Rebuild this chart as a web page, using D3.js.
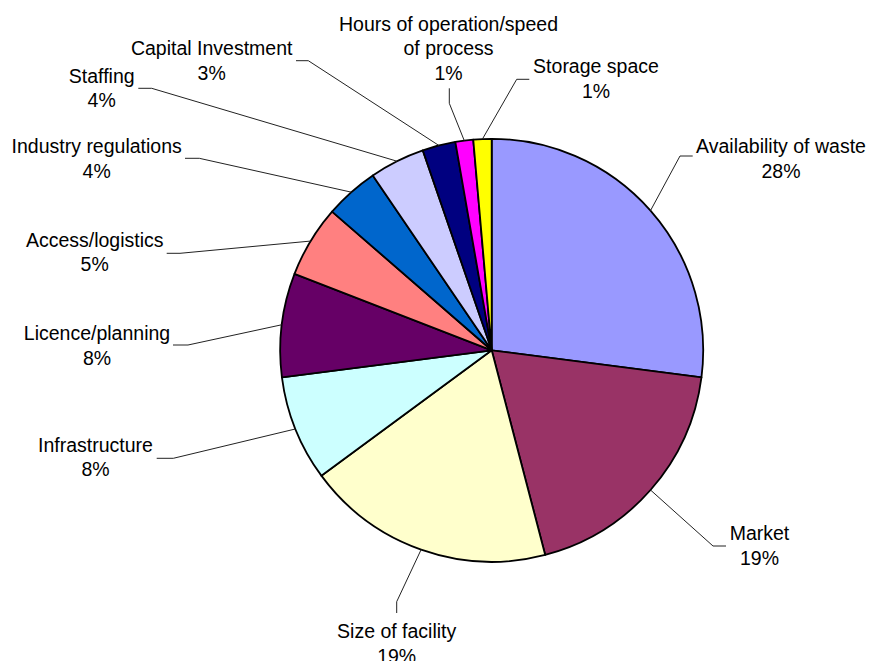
<!DOCTYPE html>
<html>
<head>
<meta charset="utf-8">
<script src="https://cdn.jsdelivr.net/npm/d3@7"></script>
<style>
body { margin: 0; background: #fff; }
svg text { font-family: "Liberation Sans", Arial, sans-serif; font-size: 19.5px; fill: #000; }
</style>
</head>
<body>
<div id="chart"></div>
<script>
// slice names (label lines) and values
var categories = [
    ["Availability of waste"],
    ["Market"],
    ["Size of facility"],
    ["Infrastructure"],
    ["Licence/planning"],
    ["Access/logistics"],
    ["Industry regulations"],
    ["Staffing"],
    ["Capital Investment"],
    ["Hours of operation/speed", "of process"],
    ["Storage space"]
];
var values = [27.03, 18.89, 18.97, 8.06, 7.92, 5.5, 4.11, 4.22, 2.53, 1.36, 1.39];
var pctLabels = ["28%", "19%", "19%", "8%", "8%", "5%", "4%", "4%", "3%", "1%", "1%"];
var colors = ["#9999FF", "#993366", "#FFFFCC", "#CCFFFF", "#660066", "#FF8080",
              "#0066CC", "#CCCCFF", "#000080", "#FF00FF", "#FFFF00"];

// label layout: text centre x, first baseline y, leader elbow and leader end
var labelPos = [
    [781, 153], [759.5, 540], [396.7, 638], [95.5, 451.7], [97, 340], [94.7, 246.7],
    [96.7, 153.3], [101.7, 82.7], [211.7, 55], [448.5, 30.7], [596, 73.3]
];
var leaderElbow = [
    [680, 156], [713, 546], [396.7, 601.7], [173.3, 458.3], [188, 345], [180, 253.3],
    [199.3, 158.3], [151.7, 88.3], [308.3, 60.7], [449.3, 103.3], [516.7, 79.3]
];
var leaderEnd = [
    [692.7, 156], [726, 546], [396.7, 613], [156.7, 458.3], [173, 345], [166.7, 253.3],
    [185, 158.3], [138.3, 88.3], [296, 60.7], [449.3, 88.3], [529.3, 79.3]
];

var width = 869, height = 661;
var cx = 491.7, cy = 350.3, radius = 211.5;
var lineGap = 24.5;

var svg = d3.select("#chart")
    .append("svg")
    .attr("width", width)
    .attr("height", height);

var pie = d3.pie()
    .sort(null)
    .value(function (d) { return d; });

var arcs = pie(values);

var arc = d3.arc()
    .innerRadius(0)
    .outerRadius(radius);

var edgeArc = d3.arc()
    .innerRadius(radius)
    .outerRadius(radius);

var g = svg.append("g")
    .attr("transform", "translate(" + cx + "," + cy + ")");

g.selectAll("path.slice")
    .data(arcs)
    .enter()
    .append("path")
    .attr("class", "slice")
    .attr("d", arc)
    .attr("fill", function (d, i) { return colors[i]; })
    .attr("stroke", "#000")
    .attr("stroke-width", 1.8)
    .attr("stroke-linejoin", "round");

// leader lines
var line = d3.line();
svg.selectAll("path.leader")
    .data(arcs)
    .enter()
    .append("path")
    .attr("class", "leader")
    .attr("d", function (d, i) {
        var p = edgeArc.centroid(d);
        return line([[p[0] + cx, p[1] + cy], leaderElbow[i], leaderEnd[i]]);
    })
    .attr("fill", "none")
    .attr("stroke", "#222")
    .attr("stroke-width", 1);

// labels
for (var i = 0; i < categories.length; i++) {
    var lines = categories[i].concat([pctLabels[i]]);
    var t = svg.append("text")
        .attr("text-anchor", "middle");
    lines.forEach(function (s, j) {
        t.append("tspan")
            .attr("x", labelPos[i][0])
            .attr("y", labelPos[i][1] + j * lineGap)
            .text(s);
    });
}
</script>
</body>
</html>
